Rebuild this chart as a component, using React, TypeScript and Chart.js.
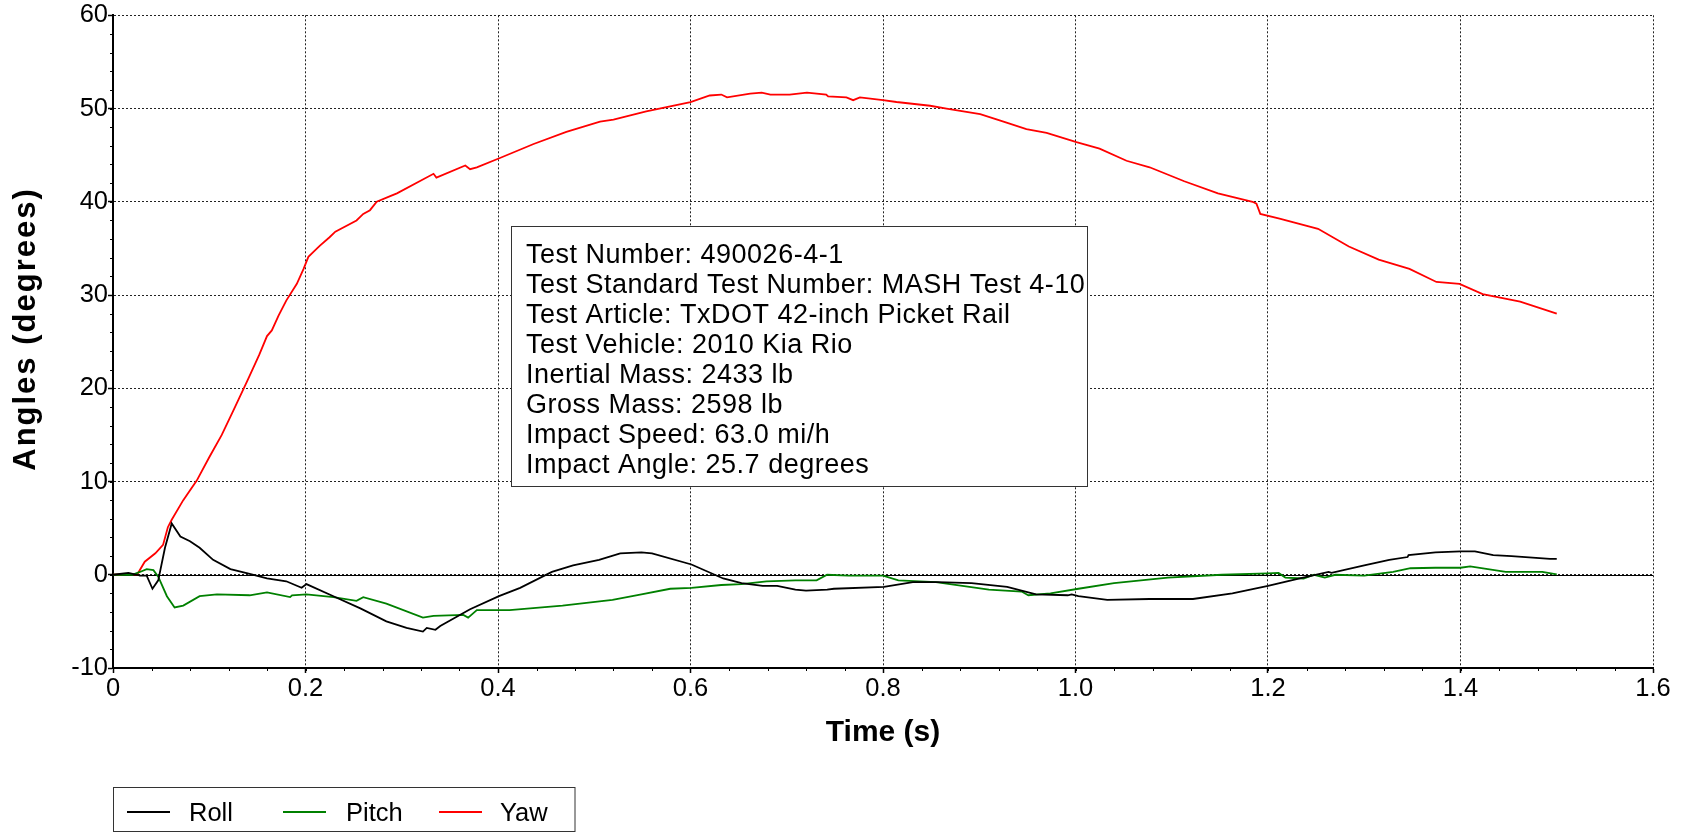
import React, { useEffect, useRef } from "react";
import { Chart, registerables } from "chart.js";

Chart.register(...registerables);

const FONT = "'Liberation Sans', Arial, Helvetica, sans-serif";

// ---- data ----
const rollTime = [0, 0.016, 0.025, 0.028, 0.035, 0.041, 0.047, 0.054, 0.061, 0.07, 0.08, 0.09, 0.104, 0.122, 0.142, 0.16, 0.18, 0.196, 0.201, 0.229, 0.257, 0.284, 0.305, 0.322, 0.326, 0.335, 0.34, 0.371, 0.401, 0.423, 0.456, 0.478, 0.505, 0.527, 0.549, 0.56, 0.601, 0.634, 0.653, 0.675, 0.69, 0.709, 0.72, 0.742, 0.749, 0.801, 0.831, 0.857, 0.892, 0.929, 0.948, 0.959, 0.992, 0.996, 1.003, 1.033, 1.077, 1.122, 1.163, 1.2, 1.233, 1.263, 1.266, 1.3, 1.326, 1.345, 1.346, 1.374, 1.4, 1.415, 1.434, 1.453, 1.493, 1.5];
const rollDeg = [0, 0.2, 0, -0.1, -0.1, -1.5, -0.6, 2.9, 5.5, 4.1, 3.6, 2.9, 1.6, 0.6, 0.1, -0.4, -0.7, -1.4, -1.0, -2.3, -3.6, -5.0, -5.7, -6.1, -5.7, -5.9, -5.5, -3.7, -2.3, -1.4, 0.3, 1.0, 1.6, 2.3, 2.4, 2.3, 1.1, -0.4, -0.9, -1.2, -1.2, -1.6, -1.7, -1.6, -1.5, -1.3, -0.8, -0.8, -0.9, -1.3, -1.8, -2.1, -2.2, -2.1, -2.3, -2.7, -2.6, -2.6, -2.0, -1.2, -0.4, 0.3, 0.2, 1.0, 1.6, 1.9, 2.1, 2.4, 2.5, 2.5, 2.1, 2.0, 1.7, 1.7];

const pitchTime = [0, 0.02, 0.028, 0.035, 0.042, 0.047, 0.056, 0.064, 0.073, 0.09, 0.108, 0.142, 0.16, 0.184, 0.186, 0.201, 0.229, 0.253, 0.26, 0.284, 0.322, 0.333, 0.364, 0.369, 0.378, 0.412, 0.467, 0.519, 0.549, 0.579, 0.601, 0.632, 0.653, 0.679, 0.709, 0.731, 0.742, 0.764, 0.8, 0.816, 0.855, 0.91, 0.944, 0.951, 0.974, 1.003, 1.04, 1.096, 1.152, 1.2, 1.211, 1.218, 1.237, 1.248, 1.259, 1.27, 1.3, 1.33, 1.348, 1.374, 1.4, 1.41, 1.447, 1.485, 1.5];
const pitchDeg = [0, 0, 0.3, 0.6, 0.5, -0.2, -2.3, -3.5, -3.3, -2.3, -2.1, -2.2, -1.9, -2.4, -2.2, -2.1, -2.4, -2.8, -2.4, -3.1, -4.6, -4.4, -4.3, -4.6, -3.8, -3.8, -3.3, -2.7, -2.1, -1.5, -1.4, -1.1, -1.0, -0.7, -0.6, -0.6, 0.0, -0.1, -0.1, -0.6, -0.8, -1.6, -1.8, -2.2, -2.0, -1.5, -0.9, -0.3, 0.0, 0.15, 0.2, -0.3, -0.4, 0.0, -0.3, 0.0, -0.1, 0.3, 0.7, 0.75, 0.75, 0.9, 0.3, 0.3, 0.05];

const yawTime = [0, 0.018, 0.025, 0.033, 0.044, 0.052, 0.057, 0.061, 0.073, 0.087, 0.1, 0.113, 0.125, 0.14, 0.152, 0.16, 0.165, 0.172, 0.18, 0.191, 0.198, 0.203, 0.208, 0.215, 0.225, 0.231, 0.253, 0.26, 0.267, 0.274, 0.288, 0.295, 0.333, 0.336, 0.366, 0.371, 0.378, 0.402, 0.437, 0.471, 0.506, 0.52, 0.554, 0.6, 0.62, 0.632, 0.638, 0.662, 0.674, 0.683, 0.703, 0.721, 0.741, 0.743, 0.762, 0.769, 0.776, 0.8, 0.814, 0.849, 0.866, 0.901, 0.922, 0.949, 0.97, 1.001, 1.025, 1.053, 1.077, 1.113, 1.148, 1.184, 1.188, 1.192, 1.212, 1.252, 1.284, 1.315, 1.347, 1.375, 1.399, 1.423, 1.462, 1.5];
const yawDeg = [0, 0.1, 0, 1.4, 2.3, 3.2, 5.1, 5.9, 8.0, 10.1, 12.6, 15.0, 17.6, 20.9, 23.6, 25.6, 26.2, 27.8, 29.4, 31.2, 32.8, 34.1, 34.6, 35.3, 36.2, 36.8, 38.0, 38.7, 39.1, 40.0, 40.6, 40.9, 43.0, 42.6, 43.9, 43.5, 43.7, 44.7, 46.2, 47.5, 48.6, 48.8, 49.7, 50.7, 51.4, 51.5, 51.2, 51.6, 51.7, 51.5, 51.5, 51.7, 51.5, 51.3, 51.2, 50.9, 51.2, 50.9, 50.7, 50.3, 50.0, 49.4, 48.7, 47.8, 47.4, 46.4, 45.7, 44.4, 43.7, 42.2, 40.9, 40.0, 39.8, 38.7, 38.2, 37.1, 35.2, 33.8, 32.8, 31.4, 31.2, 30.1, 29.3, 28.0];

const seriesLabels = ["Roll", "Pitch", "Yaw"];
const seriesColors = ["#000000", "#008000", "#ff0000"];

const xMin = 0, xMax = 1.6, xStep = 0.2, xMinorStep = 0.04;
const yMin = -10, yMax = 60, yStep = 10, yMinorStep = 2;

const infoLines = [
  "Test Number: 490026-4-1",
  "Test Standard Test Number: MASH Test 4-10",
  "Test Article: TxDOT 42-inch Picket Rail",
  "Test Vehicle: 2010 Kia Rio",
  "Inertial Mass: 2433 lb",
  "Gross Mass: 2598 lb",
  "Impact Speed: 63.0 mi/h",
  "Impact Angle: 25.7 degrees",
];

const xTitle = "Time (s)";
const yTitle = "Angles (degrees)";

export default function App() {
  const ref = useRef<HTMLCanvasElement | null>(null);

  useEffect(() => {
    const canvas = ref.current;
    if (!canvas) return;
    const toPts = (t: number[], v: number[]) => t.map((x, i) => ({ x, y: v[i] }));
    const seriesData = [toPts(rollTime, rollDeg), toPts(pitchTime, pitchDeg), toPts(yawTime, yawDeg)];

    const extras = {
      id: "extras",
      beforeDatasetsDraw(chart: any) {
        const { ctx, chartArea, scales } = chart;
        const x = scales.x, y = scales.y;
        ctx.save();
        // zero line
        const y0 = Math.round(y.getPixelForValue(0)) + 0.5;
        ctx.strokeStyle = "#000";
        ctx.lineWidth = 1;
        ctx.setLineDash([]);
        ctx.beginPath();
        ctx.moveTo(chartArea.left, y0);
        ctx.lineTo(chartArea.right, y0);
        ctx.stroke();
        // minor ticks
        ctx.lineWidth = 1;
        ctx.beginPath();
        for (let v = xMin; v <= xMax + 1e-9; v += xMinorStep) {
          const px = Math.round(x.getPixelForValue(v)) + 0.5;
          ctx.moveTo(px, chartArea.bottom);
          ctx.lineTo(px, chartArea.bottom + 3);
        }
        for (let v = yMin; v <= yMax + 1e-9; v += yMinorStep) {
          const py = Math.round(y.getPixelForValue(v)) + 0.5;
          ctx.moveTo(chartArea.left - 3, py);
          ctx.lineTo(chartArea.left, py);
        }
        ctx.stroke();
        ctx.restore();
      },
      afterDraw(chart: any) {
        const { ctx } = chart;
        ctx.save();
        // y axis title
        ctx.save();
        ctx.translate(26, 329);
        ctx.rotate(-Math.PI / 2);
        ctx.fillStyle = "#000";
        ctx.font = `bold 31px ${FONT}`;
        (ctx as any).letterSpacing = "2px";
        ctx.textAlign = "center";
        ctx.textBaseline = "middle";
        ctx.fillText(yTitle, 0, 0);
        ctx.restore();

        // info box
        const bx = 511.5, by = 226.5, bw = 576, bh = 260;
        ctx.fillStyle = "#fff";
        ctx.fillRect(bx, by, bw, bh);
        ctx.strokeStyle = "#333";
        ctx.lineWidth = 1;
        ctx.setLineDash([]);
        ctx.strokeRect(bx, by, bw, bh);
        ctx.fillStyle = "#000";
        ctx.font = `27px ${FONT}`;
        (ctx as any).letterSpacing = "0.5px";
        ctx.textAlign = "left";
        ctx.textBaseline = "middle";
        infoLines.forEach((line, i) => ctx.fillText(line, 526, 256 + i * 30));
        (ctx as any).letterSpacing = "0px";

        // legend
        ctx.fillStyle = "#fff";
        ctx.fillRect(113.5, 787.5, 461.5, 44);
        ctx.strokeStyle = "#333";
        ctx.strokeRect(113.5, 787.5, 461.5, 44);
        const lineX = [127, 283, 439];
        const textX = [189, 346, 500];
        ctx.font = `25.5px ${FONT}`;
        ctx.textBaseline = "middle";
        seriesLabels.forEach((lab, i) => {
          ctx.strokeStyle = seriesColors[i];
          ctx.lineWidth = 2;
          ctx.beginPath();
          ctx.moveTo(lineX[i], 812);
          ctx.lineTo(lineX[i] + 43, 812);
          ctx.stroke();
          ctx.fillStyle = "#000";
          ctx.fillText(lab, textX[i], 814);
        });
        ctx.restore();
      },
    };

    const chart = new Chart(canvas, {
      type: "line",
      data: {
        datasets: seriesLabels.map((lab, i) => ({
          label: lab,
          data: seriesData[i],
          borderColor: seriesColors[i],
          backgroundColor: seriesColors[i],
          borderWidth: 1.8,
          pointRadius: 0,
          tension: 0,
          fill: false,
        })),
      },
      options: {
        animation: false,
        responsive: false,
        maintainAspectRatio: false,
        parsing: false as any,
        layout: { padding: { top: 15, right: 35, bottom: 0, left: 0 } },
        plugins: { legend: { display: false }, tooltip: { enabled: false } },
        scales: {
          x: {
            type: "linear",
            min: xMin,
            max: xMax,
            ticks: {
              stepSize: xStep,
              autoSkip: false,
              maxRotation: 0,
              padding: 1,
              color: "#000",
              font: { family: FONT, size: 25.5 },
              callback: (v: any) => (Math.abs(Number(v)) < 1e-9 ? "0" : Number(v).toFixed(1)),
            },
            grid: { color: "#222", lineWidth: 1, tickLength: 5, tickColor: "#000", tickWidth: 1.5, tickBorderDash: [] },
            border: { display: true, color: "#000", width: 2, dash: [2, 2] },
            title: {
              display: true,
              text: xTitle,
              color: "#000",
              font: { family: FONT, size: 30, weight: "bold" },
              padding: { top: 0, bottom: 83 },
            },
            afterFit: (s: any) => { s.height = 166; },
          },
          y: {
            type: "linear",
            min: yMin,
            max: yMax,
            ticks: {
              stepSize: yStep,
              padding: 0,
              color: "#000",
              font: { family: FONT, size: 25.5 },
            },
            grid: { color: "#222", lineWidth: 1, tickLength: 5, tickColor: "#000", tickWidth: 1.5, tickBorderDash: [] },
            border: { display: true, color: "#000", width: 2, dash: [2, 2] },
            title: { display: false, text: yTitle },
            afterFit: (s: any) => { s.width = 113; },
          },
        },
      },
      plugins: [extras],
    });
    return () => chart.destroy();
  }, []);

  return (
    <div style={{ position: "fixed", left: 0, top: 0, width: 1688, height: 834, background: "#fff" }}>
      <canvas ref={ref} width={1688} height={834} style={{ display: "block", width: 1688, height: 834 }} />
    </div>
  );
}
